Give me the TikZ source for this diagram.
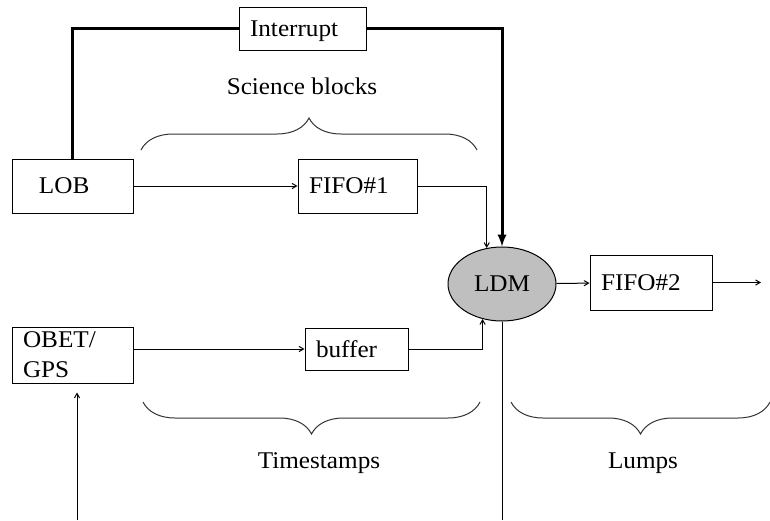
\documentclass[tikz,border=0pt]{standalone}
\usepackage{fontspec}
\setmainfont{Liberation Serif}[FakeStretch=1.05]
\usetikzlibrary{
	arrows,shapes,decorations.pathreplacing
}
\tikzset{
	blk/.style={draw,inner xsep=11pt,inner ysep=0pt,align=left,minimum height=54pt},
	brc/.style={decorate,decoration={brace,amplitude=32pt},black!80},
	heavy/.style={line width=3pt}
}

\begin{document}
\begin{tikzpicture}[x=1pt,y=-1pt,line width=1pt,>=angle 60,font=\fontsize{24}{30}\selectfont]
		\useasboundingbox (0,0) rectangle (770,520);
		\node[blk,text width=105pt,minimum height=43pt,text depth=0pt] (Int) at (302.5,28.5) {Interrupt};
		\node[blk,text width=99pt] (LOB) at (72.5,186) {\hspace*{16pt}LOB};
		\node[blk,text width=97pt] (FIFO1) at (357.5,186) {FIFO\#1};
		\node[ellipse,draw,fill=black!25,minimum width=108pt,minimum height=74pt,inner sep=0pt] (LDM) at (502,284) {LDM};
		\node[blk,text width=100pt,minimum height=55pt] (FIFO2) at (651,282.5) {FIFO\#2};
		\node[blk,text width=99pt,minimum height=56pt] (OBET) at (72.5,355) {OBET/\\GPS};
		\node[blk,text width=81pt,minimum height=42pt] (buf) at (356.5,349) {buffer};
		\coordinate (out) at (761,282.5);
		\coordinate (bot) at (502,520);
		\coordinate (gps) at (77,520);
				%
		\node (sci) at (302,86) {Science blocks};
		\node (ts) at (319,463) {Timestamps};
		\node (lu) at (643,463) {Lumps};
		\draw[brc] (141,150) -- (477,150);
		\draw[brc] (480,402) -- (143,402);
		\draw[brc] (770,402) -- (511,402);
				%
		\draw[heavy] (LOB.north) |- (Int.west);
		\draw[heavy,-latex] (Int.east) -| (LDM.north);
		\path[->]
			(LOB) edge (FIFO1)
			(LDM) edge (FIFO2)
			(FIFO2) edge (out)
			(OBET.east |- buf.west) edge (buf)
			(gps) edge[shorten >=9pt] (gps |- OBET.south);
		\draw[->] (FIFO1.east) -| (LDM.113);
		\draw[->] (buf.east) -| (LDM.241);
		\draw (LDM) -- (bot);
	\end{tikzpicture}
\end{document}
